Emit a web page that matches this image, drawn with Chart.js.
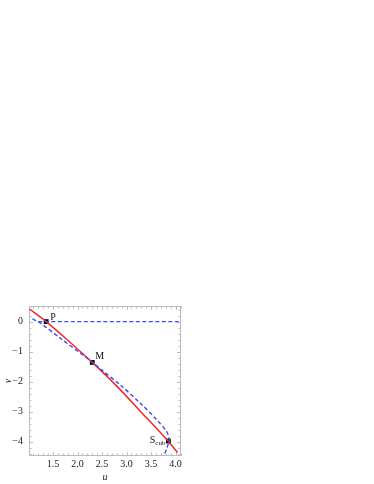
<!DOCTYPE html>
<html>
<head>
<meta charset="utf-8">
<script src="https://cdn.jsdelivr.net/npm/chart.js@4.4.0/dist/chart.umd.min.js"></script>
<style>
  html, body { margin: 0; padding: 0; background: #fff; }
</style>
</head>
<body>
<canvas id="plot" width="374" height="484"></canvas>
<script>
// red solid curve
const redU = [1.02, 1.36, 1.8, 2.3, 2.8, 3.3, 3.85, 4.04];
const redV = [0.42, 0, -0.62, -1.36, -2.15, -3.02, -3.99, -4.36];

// blue dashed curve
const blueU = [1.08, 1.25, 1.67, 2.08, 2.30, 2.49, 2.87, 3.28, 3.62, 3.82, 3.865, 3.873, 3.85, 3.82, 3.77];
const blueV = [0.09, -0.06, -0.58, -1.08, -1.35, -1.61, -2.11, -2.72, -3.28, -3.67, -3.89, -3.96, -4.08, -4.22, -4.44];

// blue dashed line v = 0
const zeroU = [1.2, 4.06];
const zeroV = [0, 0];

// marked points
const pointNames = ['P', 'M', 'S'];
const pointU = [1.36, 2.30, 3.853];
const pointV = [0, -1.36, -3.98];

const xTicks = [1.5, 2.0, 2.5, 3.0, 3.5, 4.0];
const yTicks = [-4, -3, -2, -1, 0];

const toXY = (us, vs) => us.map((u, i) => ({ x: u, y: vs[i] }));

const serif = '"Liberation Serif", "DejaVu Serif", serif';

// Mathematica-like frame with inward ticks on all sides
const frameTicks = {
    id: 'frameTicks',
    beforeDatasetsDraw(chart) {
        const { ctx, chartArea: a, scales: { x, y } } = chart;
        ctx.save();
        ctx.strokeStyle = '#bcbcbc';
        ctx.lineWidth = 1;
        ctx.strokeRect(a.left + 0.5, a.top + 0.5, a.right - a.left - 1, a.bottom - a.top - 1);
        ctx.beginPath();
        for (let i = Math.ceil(x.min * 10); i <= Math.floor(x.max * 10); i++) {
            const px = Math.round(x.getPixelForValue(i / 10)) + 0.5;
            const len = i % 5 === 0 ? 4 : 2.5;
            ctx.moveTo(px, a.bottom);
            ctx.lineTo(px, a.bottom - len);
            ctx.moveTo(px, a.top);
            ctx.lineTo(px, a.top + len);
        }
        for (let i = Math.ceil(y.min * 5); i <= Math.floor(y.max * 5); i++) {
            const py = Math.round(y.getPixelForValue(i / 5)) + 0.5;
            const len = i % 5 === 0 ? 4 : 2.5;
            ctx.moveTo(a.left, py);
            ctx.lineTo(a.left + len, py);
            ctx.moveTo(a.right, py);
            ctx.lineTo(a.right - len, py);
        }
        ctx.stroke();
        ctx.restore();
    },
    afterDatasetsDraw(chart) {
        const { ctx, scales: { x, y } } = chart;
        ctx.save();
        ctx.fillStyle = '#111';
        ctx.textBaseline = 'middle';
        ctx.font = '10px ' + serif;
        const px = pointU.map(u => x.getPixelForValue(u));
        const py = pointV.map(v => y.getPixelForValue(v));
        ctx.textAlign = 'left';
        ctx.fillText(pointNames[0], px[0] + 4, py[0] - 4);
        ctx.fillText(pointNames[1], px[1] + 3, py[1] - 6);
        // S with subscript "cub"
        ctx.font = '7px ' + serif;
        const subW = ctx.measureText('cub').width;
        ctx.textAlign = 'right';
        ctx.fillText('cub', px[2] - 3, py[2] + 2);
        ctx.font = '10px ' + serif;
        ctx.fillText(pointNames[2], px[2] - 3 - subW, py[2] - 1);
        ctx.restore();
    }
};

new Chart(document.getElementById('plot'), {
    type: 'scatter',
    data: {
        datasets: [
            {
                data: toXY(zeroU, zeroV),
                showLine: true,
                borderColor: 'rgb(60,75,240)',
                borderWidth: 1.4,
                borderDash: [4, 2.5],
                pointRadius: 0
            },
            {
                data: toXY(blueU, blueV),
                showLine: true,
                borderColor: 'rgb(60,75,240)',
                borderWidth: 1.4,
                borderDash: [4, 2.5],
                tension: 0.3,
                pointRadius: 0
            },
            {
                data: toXY(redU, redV),
                showLine: true,
                borderColor: 'rgb(240,40,40)',
                borderWidth: 1.5,
                cubicInterpolationMode: 'monotone',
                pointRadius: 0
            },
            {
                data: toXY(pointU, pointV),
                showLine: false,
                pointStyle: 'rect',
                pointRadius: 3.4,
                backgroundColor: '#000',
                borderColor: '#000',
                borderWidth: 0
            }
        ]
    },
    options: {
        responsive: false,
        animation: false,
        events: [],
        layout: { padding: { left: 0, top: 306, right: 193, bottom: 0 } },
        plugins: {
            legend: { display: false },
            tooltip: { enabled: false }
        },
        scales: {
            x: {
                type: 'linear',
                min: 1.01,
                max: 4.11,
                grid: { display: false, drawTicks: false },
                border: { display: false },
                afterBuildTicks: s => { s.ticks = xTicks.map(v => ({ value: v })); },
                afterFit: s => { s.height = 28; },
                ticks: {
                    color: '#222',
                    padding: 2,
                    maxRotation: 0,
                    font: { family: serif, size: 10 },
                    callback: v => v.toFixed(1)
                },
                title: {
                    display: true,
                    text: 'u',
                    color: '#222',
                    padding: { top: 0, bottom: 1 },
                    font: { family: serif, size: 10, style: 'italic' }
                }
            },
            y: {
                type: 'linear',
                min: -4.48,
                max: 0.52,
                grid: { display: false, drawTicks: false },
                border: { display: false },
                afterBuildTicks: s => { s.ticks = yTicks.map(v => ({ value: v })); },
                afterFit: s => { s.width = 29; },
                ticks: {
                    color: '#222',
                    padding: 6,
                    font: { family: serif, size: 10 },
                    callback: v => (v < 0 ? '\u2212' + Math.abs(v) : String(v))
                },
                title: {
                    display: true,
                    text: 'v',
                    color: '#222',
                    padding: { top: 2, bottom: 0 },
                    font: { family: serif, size: 10, style: 'italic' }
                }
            }
        }
    },
    plugins: [frameTicks]
});
</script>
</body>
</html>
